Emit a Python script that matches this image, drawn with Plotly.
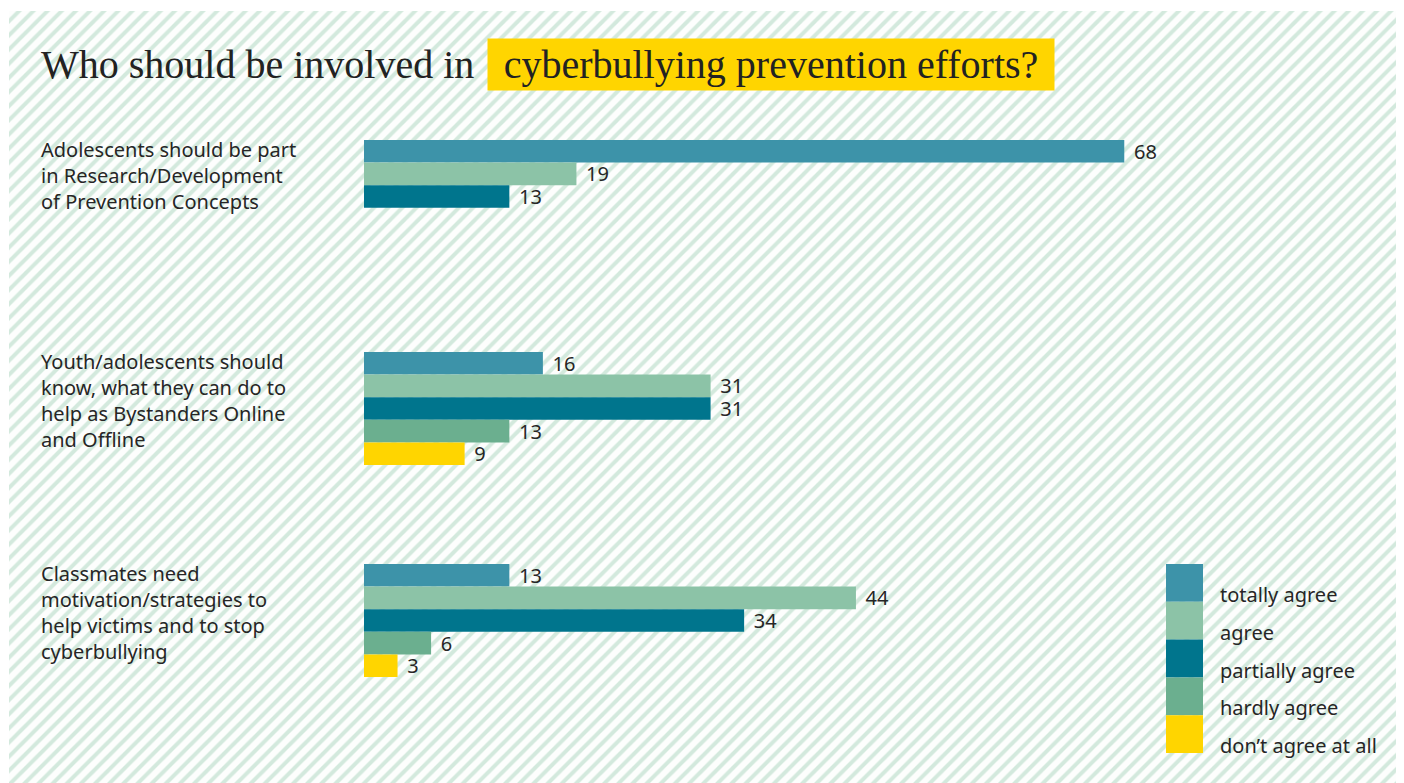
import plotly.graph_objects as go

# page is 1404x783; the html body adds an 8px margin, so the figure is 8px smaller
PAGE_W, PAGE_H = 1404, 783
OFF = 8
W, H = PAGE_W - OFF, PAGE_H - OFF


def px(x):
    return (x - OFF) / W


def py(y):
    return 1 - (y - OFF) / H


# data
questions = [
    "Adolescents should be part<br>in Research/Development<br>of Prevention Concepts",
    "Youth/adolescents should<br>know, what they can do to<br>help as Bystanders Online<br>and Offline",
    "Classmates need<br>motivation/strategies to<br>help victims and to stop<br>cyberbullying",
]
series_names = ["totally agree", "agree", "partially agree", "hardly agree", "don\u2019t agree at all"]
totally_agree = [68, 16, 13]
agree = [19, 31, 44]
partially_agree = [13, 31, 34]
hardly_agree = [None, 13, 6]
dont_agree = [None, 9, 3]
colors = ["#3D93A9", "#8CC3A7", "#00758D", "#6BAF8F", "#FFD500"]

series_values = [totally_agree, agree, partially_agree, hardly_agree, dont_agree]

fig = go.Figure()

# hatched background on a full-page helper axis
hx0, hx1, hy1 = px(9), px(1399), py(11)
fig.add_trace(go.Scatter(
    x=[hx0, hx1, hx1, hx0, hx0], y=[0, 0, hy1, hy1, 0],
    mode="lines", fill="toself", line=dict(width=0),
    fillcolor="white",
    fillpattern=dict(shape="/", size=10, solidity=0.4, fgcolor="#A9D4BD", bgcolor="#FDFEFD"),
    hoverinfo="skip", showlegend=False, xaxis="x", yaxis="y",
))

for name, vals, col in zip(series_names, series_values, colors):
    fig.add_trace(go.Bar(
        y=questions, x=vals, name=name, orientation="h",
        marker=dict(color=col, line=dict(width=0)),
        texttemplate="\u2004%{x}", textposition="outside",
        textfont=dict(family="Noto Sans", size=20, color="#262626"),
        constraintext="none", cliponaxis=False,
        hoverinfo="skip", showlegend=False,
        xaxis="x2", yaxis="y2",
    ))

# question labels
for q in questions:
    fig.add_annotation(
        x=px(40), xref="paper", xanchor="left", y=q, yref="y2", yanchor="top",
        yshift=62, text=q, align="left", showarrow=False, borderpad=0,
        font=dict(family="Noto Sans", size=20, color="#262626"),
    )

# title
fig.add_annotation(
    x=px(40), xref="paper", xanchor="left", y=py(64.5), yref="paper", yanchor="middle",
    text="Who should be involved in", showarrow=False, borderpad=0,
    font=dict(family="Liberation Serif", size=40, color="#222222"),
)
fig.add_annotation(
    x=px(487), xref="paper", xanchor="left", y=py(64.5), yref="paper", yanchor="middle",
    text="cyberbullying prevention efforts?", showarrow=False, borderpad=2,
    width=562, height=47, align="center", bgcolor="#FFD500",
    font=dict(family="Liberation Serif", size=40, color="#222222"),
)

# legend: stacked colour blocks with labels
lx0, lx1, ly_top, lh = 1166, 1203, 564, 37.8
for i, (name, col) in enumerate(zip(series_names, colors)):
    y0 = ly_top + i * lh
    fig.add_shape(type="rect", xref="paper", yref="paper",
                  x0=px(lx0), x1=px(lx1), y0=py(y0 + lh), y1=py(y0),
                  fillcolor=col, line=dict(width=0), layer="above")
    fig.add_annotation(
        x=px(1219), xref="paper", xanchor="left", y=py(y0 + lh / 2 + 11.5), yref="paper",
        yanchor="middle", text=name, showarrow=False, borderpad=0,
        font=dict(family="Noto Sans", size=20, color="#262626"),
    )

fig.update_layout(
    width=W, height=H, margin=dict(l=0, r=0, t=0, b=0),
    paper_bgcolor="white", plot_bgcolor="rgba(0,0,0,0)",
    barmode="group", bargap=0.467, bargroupgap=0,
    xaxis=dict(domain=[0, 1], range=[0, 1], visible=False, fixedrange=True),
    yaxis=dict(domain=[0, 1], range=[0, 1], visible=False, fixedrange=True),
    xaxis2=dict(domain=[px(364), px(1392.6)], range=[0, 92], visible=False, anchor="y2"),
    yaxis2=dict(domain=[py(726.5), py(90.5)], range=[2.5, -0.5], visible=False,
                anchor="x2", type="category"),
    showlegend=False,
)

fig.write_html("out.html")
